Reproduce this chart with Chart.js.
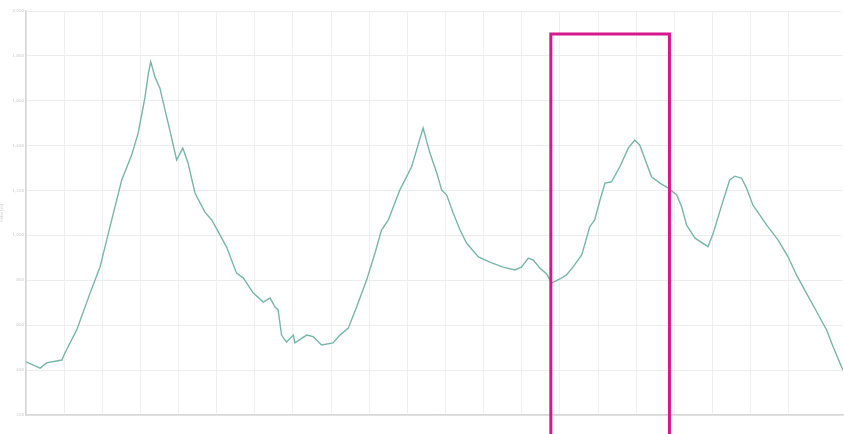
<!DOCTYPE html>
<html>
<head>
<meta charset="utf-8">
<script src="https://cdn.jsdelivr.net/npm/chart.js@4"></script>
<style>
  html, body { margin: 0; padding: 0; background: #fff; }
  #wrap { width: 844px; height: 434px; }
</style>
</head>
<body>
<div id="wrap"><canvas id="profile"></canvas></div>
<script>
// distance along the route (km) and elevation (m)
const distKm = [0, 0.37, 0.54, 0.94, 1.02, 1.33, 1.68, 1.94, 2.20, 2.51, 2.77, 2.94, 3.12, 3.21, 3.27,
  3.38, 3.51, 3.77, 3.95, 4.11, 4.25, 4.43, 4.69, 4.87, 5.26, 5.52, 5.70, 5.96, 6.22, 6.40, 6.53,
  6.61, 6.70, 6.83, 7.01, 7.05, 7.36, 7.53, 7.75, 8.05, 8.23, 8.45, 8.67, 8.93, 9.15, 9.32, 9.50,
  9.80, 10.11, 10.24, 10.41, 10.59, 10.77, 10.90, 11.03, 11.20, 11.38, 11.55, 11.86, 12.16, 12.51,
  12.82, 12.99, 13.17, 13.30, 13.47, 13.65, 13.78, 14.00, 14.17, 14.35, 14.57, 14.78, 14.91, 15.05,
  15.18, 15.35, 15.57, 15.79, 15.96, 16.09, 16.40, 16.62, 16.84, 17.06, 17.19, 17.32, 17.54, 17.88,
  18.02, 18.24, 18.45, 18.58, 18.76, 18.89, 19.06, 19.42, 19.72, 19.98, 20.20, 20.46, 20.73, 20.99,
  21.16, 21.38, 21.42];
const elevM = [437, 409, 432, 445, 476, 579, 743, 859, 1037, 1247, 1358, 1456, 1616, 1723, 1774,
  1707, 1656, 1469, 1336, 1389, 1322, 1189, 1104, 1069, 948, 832, 810, 743, 703, 721, 681,
  668, 556, 525, 556, 521, 556, 549, 512, 521, 556, 587, 682, 801, 922, 1024, 1069,
  1202, 1306, 1380, 1478, 1367, 1278, 1202, 1180, 1100, 1024, 966, 904, 881, 859,
  846, 859, 899, 890, 855, 828, 788, 806, 824, 861, 913, 1039, 1069, 1158,
  1233, 1239, 1306, 1389, 1425, 1403, 1261, 1233, 1211, 1180, 1128, 1046, 988, 950,
  1011, 1135, 1247, 1264, 1256, 1211, 1135, 1046, 979, 905, 824, 743, 660, 579,
  504, 415, 400];

const yTicks = [200, 400, 600, 800, 1000, 1200, 1400, 1600, 1800, 2000];
const xEndKm = 21.42;

// highlighted stretch (magenta box)
const boxFromKm = 13.76;
const boxToKm = 16.87;
const boxTopM = 1897;

const points = distKm.map((d, i) => ({ x: d, y: elevM[i] }));

const highlightBox = {
  id: "highlightBox",
  afterDatasetsDraw(chart) {
    const { ctx, scales } = chart;
    const x1 = scales.x.getPixelForValue(boxFromKm);
    const x2 = scales.x.getPixelForValue(boxToKm);
    const y1 = scales.y.getPixelForValue(boxTopM);
    ctx.save();
    ctx.strokeStyle = "#d6198a";
    ctx.lineWidth = 3;
    ctx.beginPath();
    ctx.moveTo(x1, chart.height + 5);
    ctx.lineTo(x1, y1);
    ctx.lineTo(x2, y1);
    ctx.lineTo(x2, chart.height + 5);
    ctx.stroke();
    ctx.restore();
  }
};

new Chart(document.getElementById("profile").getContext("2d"), {
  type: "line",
  data: {
    datasets: [{
      label: "Elevation",
      data: points,
      borderColor: "#78b5a8",
      borderWidth: 1.4,
      pointRadius: 0,
      fill: false,
      tension: 0
    }]
  },
  options: {
    responsive: true,
    maintainAspectRatio: false,
    animation: false,
    layout: { padding: { top: 11, right: 1, left: 0, bottom: 0 } },
    plugins: { legend: { display: false }, tooltip: { enabled: false } },
    scales: {
      x: {
        type: "linear",
        min: 0,
        max: xEndKm,
        afterBuildTicks: axis => { axis.ticks = axis.ticks.filter(t => Number.isInteger(t.value)); },
        afterFit: axis => { axis.height = 19; },
        ticks: { stepSize: 1, display: false },
        grid: { color: "#f0f0f0", lineWidth: 1, drawTicks: false },
        border: { color: "#d6d6d6", width: 1.5 }
      },
      y: {
        min: yTicks[0],
        max: yTicks[yTicks.length - 1],
        afterBuildTicks: axis => { axis.ticks = yTicks.map(v => ({ value: v })); },
        afterFit: axis => { axis.width = 26; },
        ticks: { color: "#c8c8c8", font: { size: 4, family: "DejaVu Sans" }, padding: 2 },
        grid: { color: "#ededed", lineWidth: 1, drawTicks: false },
        border: { color: "#d6d6d6", width: 1.5 },
        title: { display: true, text: "Höhe [m]", color: "#cccccc", font: { size: 4, family: "DejaVu Sans" }, padding: 0 }
      }
    }
  },
  plugins: [highlightBox]
});
</script>
</body>
</html>
